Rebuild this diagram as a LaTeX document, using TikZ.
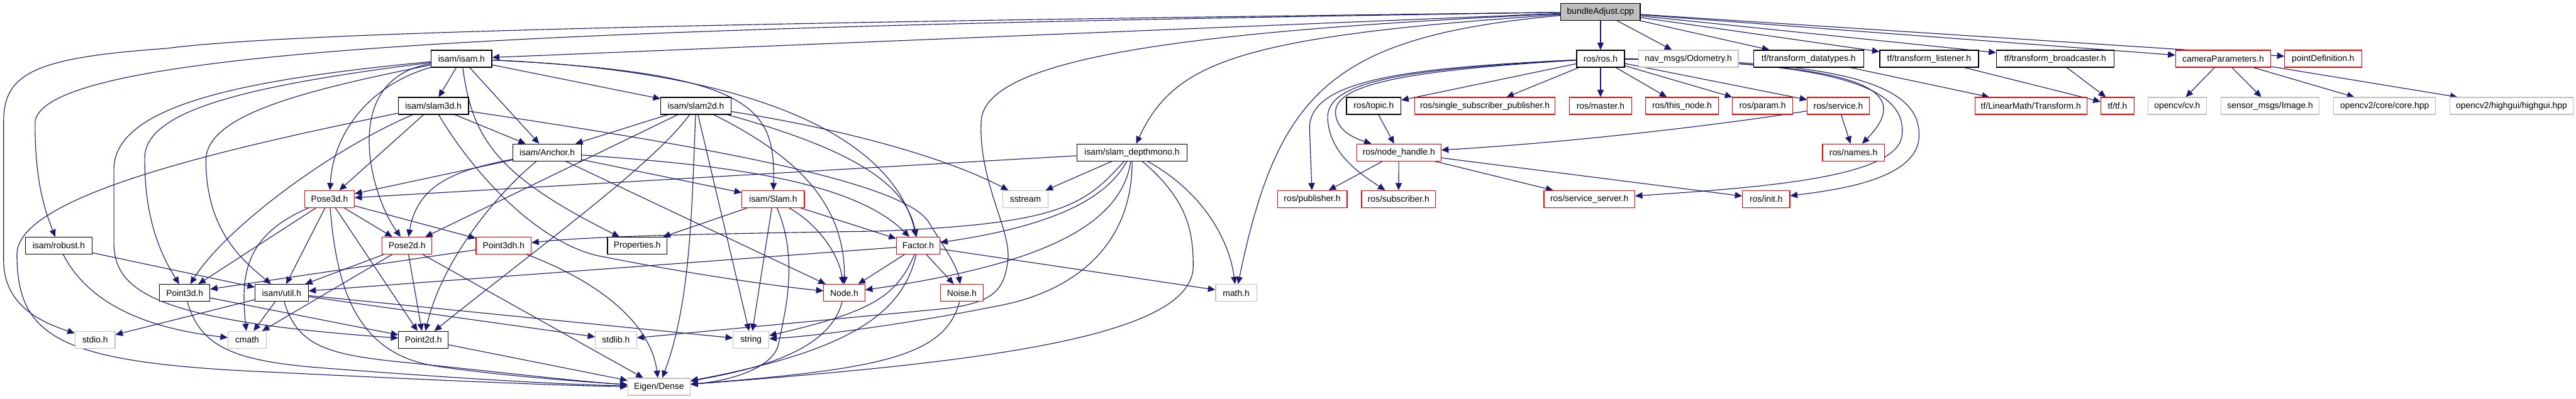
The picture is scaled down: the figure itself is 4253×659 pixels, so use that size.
\documentclass[tikz,border=0pt]{standalone}
\usepackage{fontspec}
\setmainfont{Liberation Sans}
\usetikzlibrary{arrows.meta}
\pgfdeclarelayer{background}
\pgfsetlayers{background,main}
\definecolor{edgec}{HTML}{191970}
\definecolor{grayc}{HTML}{BFBFBF}
\definecolor{redc}{HTML}{FF0000}
\begin{document}
\begin{tikzpicture}[x=0.1mm,y=-0.1mm,
  box/.style={rectangle,draw,line width=0.35pt,minimum height=2.8mm,inner sep=0pt,
     font=\fontsize{4.1pt}{5pt}\selectfont,fill=white,text=black},
  blk/.style={box,draw=black},
  redb/.style={box,draw=redc},
  grayb/.style={box,draw=grayc},
  rootb/.style={box,draw=black,fill=grayc},
  ed/.style={draw=edgec,line width=0.33pt,-{Triangle[length=3.4pt,width=3pt]}}]
\useasboundingbox (0,0) rectangle (4253,659);
% ---------------- nodes ----------------
\node[rootb,minimum width=13.1mm] (bundle) at (2642.5,19.5) {bundleAdjust.cpp};
\node[blk,minimum width=10.0mm] (isam) at (762,97) {isam/isam.h};
\node[blk,minimum width=7.9mm] (ros) at (2642.5,97) {ros/ros.h};
\node[grayb,minimum width=16.5mm] (nav) at (2787.5,97) {nav\_msgs/Odometry.h};
\node[blk,minimum width=18.15mm] (tfdt) at (2986,97) {tf/transform\_datatypes.h};
\node[blk,minimum width=16.3mm] (tfl) at (3185,97) {tf/transform\_listener.h};
\node[blk,minimum width=19.4mm] (tfb) at (3393,97) {tf/transform\_broadcaster.h};
\node[redb,minimum width=15.7mm] (cam) at (3670.4,97) {cameraParameters.h};
\node[redb,minimum width=12.7mm] (pdef) at (3835.5,97) {pointDefinition.h};
\node[blk,minimum width=11.6mm] (slamthree) at (715.5,175) {isam/slam3d.h};
\node[blk,minimum width=11.6mm] (slamtwo) at (1149,175) {isam/slam2d.h};
\node[blk,minimum width=9.0mm] (topic) at (2268,175) {ros/topic.h};
\node[redb,minimum width=23.1mm] (ssp) at (2451.5,175) {ros/single\_subscriber\_publisher.h};
\node[redb,minimum width=10.3mm] (master) at (2642.5,175) {ros/master.h};
\node[redb,minimum width=12.0mm] (thisnode) at (2777,175) {ros/this\_node.h};
\node[redb,minimum width=10.0mm] (param) at (2910,175) {ros/param.h};
\node[redb,minimum width=10.2mm] (service) at (3035,175) {ros/service.h};
\node[redb,minimum width=18.5mm] (lmt) at (3353,175) {tf/LinearMath/Transform.h};
\node[redb,minimum width=5.5mm] (tftf) at (3496,175) {tf/tf.h};
\node[grayb,minimum width=9.7mm] (cv) at (3594.5,175) {opencv/cv.h};
\node[grayb,minimum width=16.2mm] (img) at (3748,175) {sensor\_msgs/Image.h};
\node[grayb,minimum width=16.8mm] (core) at (3937,175) {opencv2/core/core.hpp};
\node[grayb,minimum width=20.4mm] (highgui) at (4146.5,175) {opencv2/highgui/highgui.hpp};
\node[blk,minimum width=11.3mm] (anchor) at (903.5,252) {isam/Anchor.h};
\node[blk,minimum width=18.2mm] (depth) at (1869,252) {isam/slam\_depthmono.h};
\node[redb,minimum width=13.9mm] (nh) at (2309.5,252) {ros/node\_handle.h};
\node[redb,minimum width=10.2mm] (names) at (3060,252) {ros/names.h};
\node[redb,minimum width=8.2mm] (posethree) at (544,329) {Pose3d.h};
\node[redb,minimum width=10.3mm] (slam) at (1276.5,329) {isam/Slam.h};
\node[grayb,minimum width=7.5mm] (sstream) at (1693,329) {sstream};
\node[redb,minimum width=11.5mm] (pub) at (2166.5,329) {ros/publisher.h};
\node[redb,minimum width=12.2mm] (sub) at (2309,329) {ros/subscriber.h};
\node[redb,minimum width=15.0mm] (srv) at (2624,329) {ros/service\_server.h};
\node[redb,minimum width=7.8mm] (init) at (2916,329) {ros/init.h};
\node[blk,minimum width=11.0mm] (robust) at (97,406) {isam/robust.h};
\node[redb,minimum width=8.2mm] (posetwo) at (672,406) {Pose2d.h};
\node[redb,minimum width=9.1mm] (ptthreeh) at (831.5,406) {Point3dh.h};
\node[blk,minimum width=9.8mm] (props) at (1052,406) {Properties.h};
\node[redb,minimum width=7.2mm] (factor) at (1516,406) {Factor.h};
\node[blk,minimum width=8.3mm] (ptthree) at (305,484) {Point3d.h};
\node[blk,minimum width=8.8mm] (util) at (465,484) {isam/util.h};
\node[redb,minimum width=6.8mm] (nodeh) at (1394,484) {Node.h};
\node[redb,minimum width=7.1mm] (noise) at (1588,484) {Noise.h};
\node[grayb,minimum width=6.8mm] (mathh) at (2041,484) {math.h};
\node[grayb,minimum width=6.6mm] (stdio) at (157,561.5) {stdio.h};
\node[grayb,minimum width=6.3mm] (cmath) at (408,561.5) {cmath};
\node[blk,minimum width=8.2mm] (pttwo) at (699,561.5) {Point2d.h};
\node[grayb,minimum width=6.8mm] (stdlib) at (1017,561.5) {stdlib.h};
\node[grayb,minimum width=5.9mm] (strg) at (1240,561.5) {string};
\node[grayb,minimum width=10.3mm] (eigen) at (1088,639) {Eigen/Dense};
% ---------------- edges ----------------
\begin{pgfonlayer}{background}
\fill[white] (0,0) rectangle (4253,659);
% bundleAdjust.cpp
\draw[ed] (bundle) -- (ros);
\draw[ed] (bundle) -- (nav);
\draw[ed] (bundle) -- (tfdt);
\draw[ed] (bundle) -- (tfl);
\draw[ed] (bundle) -- (tfb);
\draw[ed] (bundle) -- (cam);
\draw[ed] (bundle) -- (pdef);
\draw[ed] (bundle) -- (isam);
\draw[ed] (bundle) .. controls (900,45) and (80,80) .. (58,200) .. controls (57,300) and (75,350) .. (robust);
\draw[ed] (bundle) .. controls (1400,35) and (500,50) .. (275,80) .. controls (60,95) and (6,120) .. (6,200) -- (6,430) .. controls (6,500) and (60,530) .. (stdio);
\draw[ed] (bundle) .. controls (2000,50) and (1625,90) .. (1620,200) .. controls (1615,300) and (1670,380) .. (1664,430) .. controls (1658,480) and (1640,500) .. (1560,510) -- (stdlib);
\draw[ed] (bundle) .. controls (2050,60) and (1940,100) .. (depth);
\draw[ed] (bundle) .. controls (2200,60) and (2110,150) .. (mathh);
% ros/ros.h
\draw[ed] (ros) -- (topic);
\draw[ed] (ros) -- (ssp);
\draw[ed] (ros) -- (master);
\draw[ed] (ros) -- (thisnode);
\draw[ed] (ros) -- (param);
\draw[ed] (ros) -- (service);
\draw[ed] (ros) .. controls (3050,105) and (3170,140) .. (names);
\draw[ed] (ros) .. controls (3080,100) and (3175,150) .. (3168,230) .. controls (3160,300) and (3020,315) .. (init);
\draw[ed] (ros) .. controls (3050,102) and (3150,150) .. (3140,225) .. controls (3130,295) and (2900,310) .. (srv);
\draw[ed] (ros) .. controls (2350,115) and (2205,135) .. (2205,185) .. controls (2205,215) and (2235,228) .. (nh);
\draw[ed] (ros) .. controls (2330,112) and (2165,130) .. (2162,210) -- (pub);
\draw[ed] (ros) .. controls (2340,114) and (2190,130) .. (2192,195) .. controls (2194,255) and (2250,290) .. (sub);
\draw[ed] (topic) -- (nh);
\draw[ed] (service) .. controls (2850,205) and (2600,235) .. (nh);
\draw[ed] (service) -- (names);
\draw[ed] (nh) -- (pub);
\draw[ed] (nh) -- (sub);
\draw[ed] (nh) -- (srv);
\draw[ed] (nh) -- (init);
% tf / camera
\draw[ed] (tfdt) -- (lmt);
\draw[ed] (tfl) -- (tftf);
\draw[ed] (tfb) -- (tftf);
\draw[ed] (cam) -- (cv);
\draw[ed] (cam) -- (img);
\draw[ed] (cam) -- (core);
\draw[ed] (cam) -- (highgui);
% isam/isam.h
\draw[ed] (isam) -- (slamthree);
\draw[ed] (isam) -- (slamtwo);
\draw[ed] (isam) -- (anchor);
\draw[ed] (isam) .. controls (1250,120) and (1280,180) .. (slam);
\draw[ed] (isam) .. controls (1300,120) and (1480,250) .. (factor);
\draw[ed] (isam) .. controls (610,140) and (550,220) .. (posethree);
\draw[ed] (isam) .. controls (560,130) and (610,320) .. (posetwo);
\draw[ed] (isam) .. controls (420,140) and (240,180) .. (239,260) .. controls (238,360) and (265,420) .. (ptthree);
\draw[ed] (isam) .. controls (500,150) and (340,190) .. (340,265) .. controls (340,380) and (400,430) .. (util);
\draw[ed] (isam) .. controls (420,130) and (188,170) .. (188,280) -- (188,400) .. controls (188,480) and (250,530) .. (pttwo);
\draw[ed] (isam) .. controls (780,230) and (820,290) .. (props);
% isam/slam3d.h
\draw[ed] (slamthree) -- (anchor);
\draw[ed] (slamthree) -- (posethree);
\draw[ed] (slamthree) .. controls (540,250) and (370,380) .. (ptthree);
\draw[ed] (slamthree) .. controls (400,240) and (28,320) .. (28,420) .. controls (28,560) and (100,600) .. (450,615) .. controls (750,630) and (950,638) .. (eigen);
\draw[ed] (slamthree) .. controls (790,300) and (900,410) .. (1000,425) .. controls (1150,455) and (1300,475) .. (nodeh);
\draw[ed] (slamthree) .. controls (1150,240) and (1500,300) .. (1535,370) .. controls (1560,410) and (1580,440) .. (noise);
% isam/slam2d.h
\draw[ed] (slamtwo) -- (anchor);
\draw[ed] (slamtwo) -- (posetwo);
\draw[ed] (slamtwo) .. controls (1080,270) and (900,400) .. (pttwo);
\draw[ed] (slamtwo) .. controls (1142,350) and (1140,500) .. (eigen);
\draw[ed] (slamtwo) -- (strg);
\draw[ed] (slamtwo) .. controls (1320,260) and (1395,340) .. (nodeh);
\draw[ed] (slamtwo) .. controls (1400,215) and (1560,260) .. (sstream);
\draw[ed] (slamtwo) .. controls (1400,245) and (1495,300) .. (factor);
% isam/Anchor.h
\draw[ed] (anchor) -- (posethree);
\draw[ed] (anchor) .. controls (760,280) and (690,300) .. (posetwo);
\draw[ed] (anchor) .. controls (820,320) and (730,430) .. (pttwo);
\draw[ed] (anchor) -- (nodeh);
\draw[ed] (anchor) -- (slam);
\draw[ed] (anchor) .. controls (1150,270) and (1400,290) .. (factor);
% isam/Slam.h
\draw[ed] (slam) -- (props);
\draw[ed] (slam) -- (strg);
\draw[ed] (slam) .. controls (1320,430) and (1295,520) .. (1285,570) .. controls (1275,610) and (1200,630) .. (eigen);
\draw[ed] (slam) .. controls (1350,370) and (1385,420) .. (nodeh);
\draw[ed] (slam) -- (factor);
% Pose3d.h
\draw[ed] (posethree) -- (posetwo);
\draw[ed] (posethree) -- (ptthree);
\draw[ed] (posethree) .. controls (400,390) and (398,460) .. (cmath);
\draw[ed] (posethree) -- (util);
\draw[ed] (posethree) .. controls (556,480) and (590,585) .. (720,605) .. controls (820,620) and (950,630) .. (eigen);
\draw[ed] (posethree) -- (pttwo);
\draw[ed] (posethree) -- (ptthreeh);
% Pose2d.h
\draw[ed] (posetwo) -- (util);
\draw[ed] (posetwo) -- (cmath);
\draw[ed] (posetwo) -- (pttwo);
\draw[ed] (posetwo) -- (eigen);
% Point3dh.h, Point3d.h
\draw[ed] (ptthreeh) -- (ptthree);
\draw[ed] (ptthreeh) .. controls (1000,470) and (1075,540) .. (eigen);
\draw[ed] (ptthree) -- (pttwo);
\draw[ed] (ptthree) .. controls (330,570) and (380,595) .. (520,607) .. controls (750,625) and (920,635) .. (eigen);
% isam/util.h
\draw[ed] (util) -- (stdio);
\draw[ed] (util) -- (cmath);
\draw[ed] (util) .. controls (490,570) and (540,585) .. (650,597) .. controls (800,612) and (950,630) .. (eigen);
\draw[ed] (util) -- (strg);
\draw[ed] (util) -- (stdlib);
% isam/robust.h
\draw[ed] (robust) -- (util);
\draw[ed] (robust) .. controls (140,490) and (220,540) .. (cmath);
% Factor.h
\draw[ed] (factor) -- (nodeh);
\draw[ed] (factor) -- (noise);
\draw[ed] (factor) -- (mathh);
\draw[ed] (factor) -- (util);
\draw[ed] (factor) .. controls (1480,490) and (1440,515) .. (strg);
\draw[ed] (factor) .. controls (1490,520) and (1400,580) .. (eigen);
% Node.h, Noise.h, Point2d.h
\draw[ed] (nodeh) .. controls (1370,580) and (1250,610) .. (eigen);
\draw[ed] (noise) .. controls (1560,590) and (1450,610) .. (eigen);
\draw[ed] (pttwo) -- (eigen);
% isam/slam_depthmono.h
\draw[ed] (depth) -- (sstream);
\draw[ed] (depth) -- (posethree);
\draw[ed] (depth) .. controls (1790,340) and (1750,370) .. (1450,382) .. controls (1100,387) and (960,392) .. (ptthreeh);
\draw[ed] (depth) .. controls (1830,320) and (1760,370) .. (factor);
\draw[ed] (depth) .. controls (1850,380) and (1700,440) .. (nodeh);
\draw[ed] (depth) .. controls (1870,400) and (1780,480) .. (1650,505) .. controls (1500,535) and (1350,555) .. (strg);
\draw[ed] (depth) .. controls (1960,330) and (1970,380) .. (1970,440) .. controls (1970,560) and (1600,600) .. (eigen);
\draw[ed] (depth) .. controls (1990,320) and (2030,400) .. (mathh);
\end{pgfonlayer}
\end{tikzpicture}
\end{document}
